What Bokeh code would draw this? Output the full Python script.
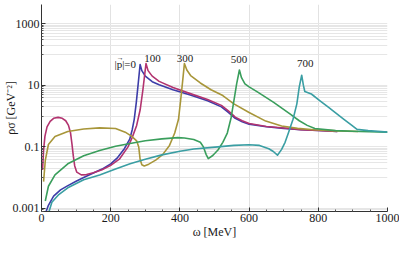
from bokeh.plotting import figure
from bokeh.models import FixedTicker, CustomJSTickFormatter, Label, Range1d
from bokeh.embed import file_html
from bokeh.resources import INLINE

# ---- data (omega in MeV, rho in GeV^-2) ----
w_p0 = [6, 10, 20, 35, 55, 75, 100, 125, 150, 175, 200, 220, 240, 255, 262, 268, 274, 279, 285,
        290, 300, 320, 340, 380, 430, 480, 520, 540, 560, 580, 600, 650, 700, 750, 800, 855]
r_p0 = [3.5e-4, 6.3e-4, 1.26e-3, 2.5e-3, 4.0e-3, 5.4e-3, 7.6e-3, 0.0105, 0.0141, 0.019, 0.028, 0.045,
        0.089, 0.178, 0.355, 0.79, 2.8, 10.0, 47.9, 30.2, 20.0, 13.2, 10.5, 7.2, 4.9, 3.16, 2.0, 1.32,
        0.85, 0.66, 0.55, 0.45, 0.40, 0.36, 0.34, 0.32]

w_p100 = [3, 6, 10, 16, 25, 35, 48, 60, 70, 78, 84, 88, 92, 96, 102, 115, 130, 150, 175, 200, 225,
          250, 262, 275, 285, 293, 302, 308, 320, 340, 380, 430, 480, 520, 540, 560, 580, 600, 650,
          700, 750, 800, 855]
r_p100 = [0.0178, 0.079, 0.224, 0.447, 0.676, 0.851, 0.912, 0.851, 0.708, 0.501, 0.282, 0.126, 0.0501,
          0.024, 0.0151, 0.0123, 0.0126, 0.0145, 0.0182, 0.0251, 0.0398, 0.1, 0.2, 0.5, 1.58, 7.08,
          51.3, 30.2, 20.0, 13.5, 8.5, 5.4, 3.5, 2.24, 1.48, 0.93, 0.71, 0.58, 0.46, 0.41, 0.36, 0.34, 0.32]

w_p300 = [6, 11, 20, 39, 76, 122, 168, 214, 242, 260, 275, 281, 285, 290, 297, 310, 330, 350, 370,
          385, 396, 402, 408, 413, 420, 431, 459, 490, 524, 556, 600, 648, 694, 740, 787, 850, 915]
r_p300 = [0.0074, 0.0363, 0.12, 0.219, 0.316, 0.38, 0.417, 0.398, 0.302, 0.224, 0.158, 0.1, 0.0398,
          0.0263, 0.024, 0.0275, 0.0372, 0.0562, 0.112, 0.282, 0.794, 3.16, 14.1, 51.3, 31.6, 20.9,
          12.0, 7.24, 4.68, 2.51, 1.32, 0.69, 0.48, 0.40, 0.363, 0.331, 0.316]

w_p500 = [11, 20, 39, 76, 122, 168, 214, 260, 300, 348, 394, 413, 440, 459, 468, 476, 482, 495, 510,
          524, 537, 548, 556, 564, 572, 578, 588, 600, 625, 671, 717, 745, 768, 790, 850, 920, 1000]
r_p500 = [0.00174, 0.00525, 0.0123, 0.0282, 0.0513, 0.0759, 0.105, 0.132, 0.158, 0.182, 0.2, 0.195,
          0.174, 0.141, 0.1, 0.0562, 0.0417, 0.0525, 0.0794, 0.141, 0.282, 0.891, 3.16, 11.2, 31.6,
          17.8, 11.2, 8.91, 6.03, 2.82, 1.2, 0.708, 0.501, 0.398, 0.339, 0.316, 0.302]

w_p700 = [22, 30, 50, 76, 122, 168, 214, 256, 300, 348, 400, 440, 510, 556, 600, 630, 657, 670, 682,
          694, 704, 713, 727, 738, 745, 752, 757, 761, 780, 805, 828, 851, 875, 898, 912, 944, 1000]
r_p700 = [8.1e-4, 1.58e-3, 2.82e-3, 4.68e-3, 8.5e-3, 0.0123, 0.019, 0.0282, 0.0398, 0.055, 0.0724,
          0.0851, 0.1, 0.112, 0.117, 0.112, 0.0871, 0.0708, 0.0537, 0.0832, 0.141, 0.275, 0.794, 2.51,
          8.91, 21.4, 10.0, 6.31, 5.25, 3.16, 2.0, 1.26, 0.776, 0.49, 0.372, 0.339, 0.302]

series = [
    (w_p0, r_p0, "#3d3da8"),
    (w_p100, r_p100, "#b2336f"),
    (w_p300, r_p300, "#a8963a"),
    (w_p500, r_p500, "#3a9e5c"),
    (w_p700, r_p700, "#3a9ea3"),
]

# curve labels: text, omega, rho
label_texts = ["|p|=0", "100", "300", "500", "700"]
label_w = [242, 321, 415, 571, 762]
label_r = [49.0, 77.6, 77.6, 67.6, 52.5]

x_ticks = [0, 200, 400, 600, 800, 1000]
x_minor = [50, 100, 150, 250, 300, 350, 450, 500, 550, 650, 700, 750, 850, 900, 950]
y_ticks = [0.001, 0.1, 10, 1000]
y_grid = [k * 10.0 ** e for e in (2, 0, -2, -4) for k in range(1, 11)]
y_minor = [v for v in y_grid if v not in y_ticks]

FONT = "Liberation Serif"
TXT = "#1a1a1a"

p = figure(width=399, height=241, x_range=Range1d(0, 1000),
           y_range=Range1d(10 ** -3.1, 10 ** 3.63), y_axis_type="log",
           output_backend="svg", toolbar_location=None,
           min_border_left=41, min_border_right=12, min_border_top=4, min_border_bottom=29)
p.outline_line_color = None
p.background_fill_color = "white"

p.xgrid.ticker = FixedTicker(ticks=[200, 400, 600, 800, 1000])
p.ygrid.ticker = FixedTicker(ticks=y_grid)
p.xgrid.grid_line_color = "#e2e2e2"
p.ygrid.grid_line_color = "#e6e6e6"

xa = p.xaxis[0]
xa.ticker = FixedTicker(ticks=x_ticks, minor_ticks=x_minor)
ya = p.yaxis[0]
ya.ticker = FixedTicker(ticks=y_ticks, minor_ticks=y_minor)
ya.formatter = CustomJSTickFormatter(code="return tick.toString();")
for ax in (xa, ya):
    ax.major_tick_in = 4
    ax.major_tick_out = 0
    ax.minor_tick_in = 2
    ax.minor_tick_out = 0
    ax.axis_line_color = "#333333"
    ax.major_tick_line_color = "#333333"
    ax.minor_tick_line_color = "#555555"
    ax.major_label_text_font = FONT
    ax.major_label_text_font_size = "12px"
    ax.major_label_text_color = TXT
    ax.major_label_standoff = 3
    ax.axis_label_text_font = FONT
    ax.axis_label_text_font_size = "12px"
    ax.axis_label_text_font_style = "normal"
    ax.axis_label_text_color = TXT
    ax.axis_label_standoff = 0
xa.major_label_standoff = 2
ya.major_label_standoff = 2
ya.axis_label_standoff = -8
xa.axis_label = "\u03c9 [MeV]"
ya.axis_label = "\u03c1\u03c3 [GeV\u207b\u00b2]"

for w, r, c in series:
    p.line(w, r, line_color=c, line_width=1.6, line_join="round")

for t, w, r in zip(label_texts, label_w, label_r):
    p.add_layout(Label(x=w, y=r, text=t, text_font=FONT, text_font_size="11px",
                       text_color=TXT, text_align="center", text_baseline="middle"))
# vector arrow over the p of |p|=0
p.add_layout(Label(x=label_w[0], y=label_r[0], text="\u2192", text_font=FONT,
                   text_font_size="7px", text_color=TXT, text_align="center",
                   text_baseline="middle", x_offset=-5, y_offset=6))

open("out.html", "w").write(file_html(p, INLINE))
